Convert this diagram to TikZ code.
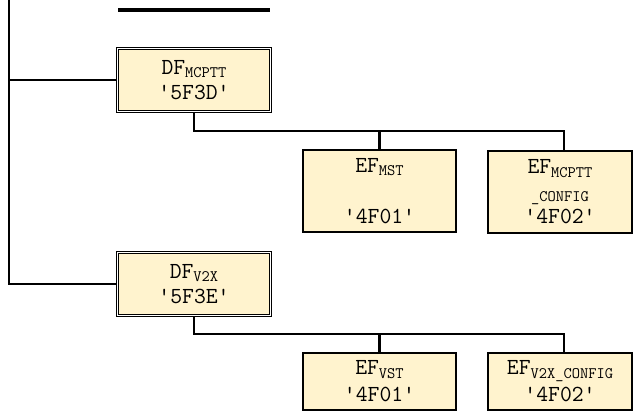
\documentclass[tikz,border=0pt]{standalone}
\usepackage{fontspec}
\usetikzlibrary{positioning,calc}
\definecolor{filecolor}{RGB}{255,243,206}
\definecolor{linecolor}{RGB}{0,0,0}
\newcommand{\fid}[2]{#1\raisebox{-0.35ex}{\fontsize{16}{16}\selectfont #2}}
\begin{document}
\begin{tikzpicture}[
    x=1pt, y=-1pt,
    % box styles
    dfbox/.style={
        rectangle, draw=linecolor, fill=filecolor,
        double=white, double distance=1.2pt, line width=1.3pt,
        minimum width=153pt, minimum height=63pt, inner sep=0pt,
        align=center, font=\ttfamily\fontsize{23}{25}\selectfont
    },
    efbox/.style={
        rectangle, draw=linecolor, fill=filecolor, line width=2.2pt,
        minimum width=#1, inner sep=0pt,
        align=center, font=\ttfamily\fontsize{23}{25}\selectfont
    },
    link/.style={line width=2.2pt, draw=linecolor}
]
\useasboundingbox (0,0) rectangle (633,412);

% ==========================================================
% parent (cut off at the top)
% ==========================================================
\draw[line width=4pt] (118,10) -- (270,10);
\coordinate (trunk) at (9,0);

% ==========================================================
% DF MCPTT
% ==========================================================
\node[dfbox] (dfmcptt) at (194,80) {\fid{DF}{MCPTT}\\'5F3D'};

\node[efbox=153pt, minimum height=82pt] (efmst) at (379.5,191)
    {\fid{EF}{MST}\\[26pt]'4F01'};
\node[efbox=144pt, minimum height=82pt] (efmcfg) at (560,192)
    {\fid{EF}{MCPTT}\\[3pt]{\fontsize{16}{16}\selectfont\_CONFIG}\\[-3pt]'4F02'};

\coordinate (bus1) at (564,131);
\draw[link] (trunk |- dfmcptt.west) -- (dfmcptt.west);
\draw[link] (dfmcptt.south) |- (bus1) -- (bus1 |- efmcfg.north);
\draw[link] (efmst.north) -- (efmst.north |- bus1);

% ==========================================================
% DF V2X
% ==========================================================
\node[dfbox] (dfv2x) at (194,284) {\fid{DF}{V2X}\\'5F3E'};

\node[efbox=153pt, minimum height=57pt] (efvst) at (379.5,381.5)
    {\fid{EF}{VST}\\[2pt]'4F01'};
\node[efbox=144pt, minimum height=57pt] (efvcfg) at (560,381.5)
    {\fid{EF}{V2X\_CONFIG}\\[2pt]'4F02'};

\coordinate (bus2) at (564,334);
\draw[link] (trunk) |- (dfv2x.west);
\draw[link] (dfv2x.south) |- (bus2) -- (bus2 |- efvcfg.north);
\draw[link] (efvst.north) -- (efvst.north |- bus2);

\end{tikzpicture}
\end{document}
